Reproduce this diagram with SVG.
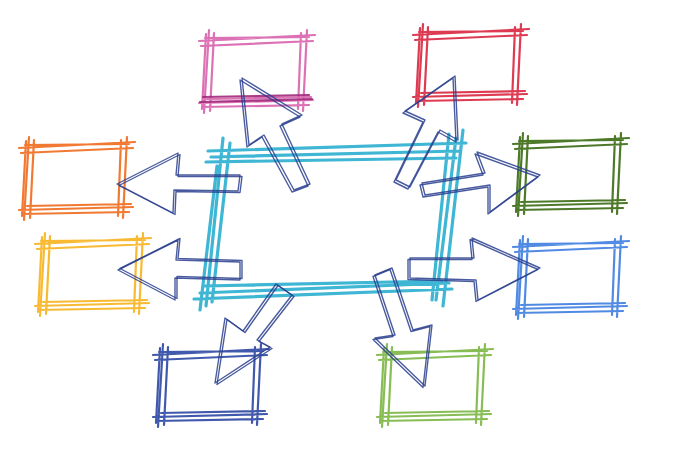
<svg xmlns="http://www.w3.org/2000/svg" xmlns:xlink="http://www.w3.org/1999/xlink" width="680" height="453" viewBox="0 0 680 453">
<style>
.box{fill:none;stroke:currentColor;stroke-width:2.2;stroke-linecap:round;opacity:0.9}
.hub{fill:none;stroke:#29aecf;stroke-width:3.2;stroke-linecap:round;opacity:0.9}
.arr{fill:none;stroke:#2a3f8e;stroke-width:1.4;stroke-linejoin:round;stroke-linecap:round;opacity:0.85}
</style>
<defs>
<path id="sk" class="box" d="M-6,4 L110,-2 M-4,9 L108,4 M0,1 L104,0 M4,-7 L-1,76 M9,-4 L5,74 M1,-3 L-3,72 M102,-7 L98,74 M96,-4 L93,72 M-6,66 L108,63 M-3,70 L104,68 M2,62 L106,60"/>
</defs>
<rect width="680" height="453" fill="#ffffff"/>
<g id="hub">
<path class="hub" d="M208,151 L466,143 M211,157 L460,151 M206,162 L456,158 M223,138 L206,306 M230,143 L212,302 M217,166 L200,310 M463,130 L443,306 M456,138 L436,300 M449,134 L432,300 M194,299 L452,289 M200,293 L449,283 M205,286 L442,281"/>
</g>
<g id="box-pink" color="#d863ad"><use href="#sk" transform="translate(205,37)"/><path class="box" style="color:#a2287a" d="M200,102 L312,99 M203,97 L309,95"/></g>
<g id="box-red" color="#d9263f"><use href="#sk" transform="translate(419,31)"/></g>
<g id="box-orange" color="#f06a1c"><use href="#sk" transform="translate(25,144)"/></g>
<g id="box-darkgreen" color="#3a6a12"><use href="#sk" transform="translate(519,140)"/></g>
<g id="box-yellow" color="#f7b31c"><use href="#sk" transform="translate(41,240)"/></g>
<g id="box-blue" color="#3d7ddf"><use href="#sk" transform="translate(519,243)"/></g>
<g id="box-navy" color="#2c47a3"><use href="#sk" transform="translate(159,351)"/></g>
<g id="box-lightgreen" color="#7ab641"><use href="#sk" transform="translate(383,351)"/></g>
<g id="connectors">
<path id="a1" class="arr" d="M117,184 L178,153 L176,175 L240,175 L238,191 L174,190 L173,213 Z"/>
<use href="#a1" transform="translate(2,1.5)"/>
<path id="a2" class="arr" d="M118,270 L178,240 L176,260 L240,262 L240,280 L175,278 L175,300 Z"/>
<use href="#a2" transform="translate(2,-1.5)"/>
<path id="a3" class="arr" d="M540,175 L477,152 L485,173 L422,183 L425,195 L490,185 L490,212 Z"/>
<use href="#a3" transform="translate(-2,2)"/>
<path id="a4" class="arr" d="M540,268 L472,238 L474,258 L410,258 L410,278 L476,280 L478,300 Z"/>
<use href="#a4" transform="translate(-2,1.5)"/>
<path id="a5" class="arr" d="M240,80 L300,117 L280,126 L308,186 L292,192 L262,137 L247,147 Z"/>
<use href="#a5" transform="translate(2,-2)"/>
<path id="a6" class="arr" d="M455,76 L405,111 L425,120 L396,180 L410,187 L440,130 L458,140 Z"/>
<use href="#a6" transform="translate(-2,2)"/>
<path id="a7" class="arr" d="M215,383 L225,318 L243,331 L276,284 L292,295 L257,340 L270,347 Z"/>
<use href="#a7" transform="translate(2,1.5)"/>
<path id="a8" class="arr" d="M425,386 L375,338 L395,335 L375,275 L392,268 L413,330 L432,325 Z"/>
<use href="#a8" transform="translate(-2,1.5)"/>
</g>
</svg>
